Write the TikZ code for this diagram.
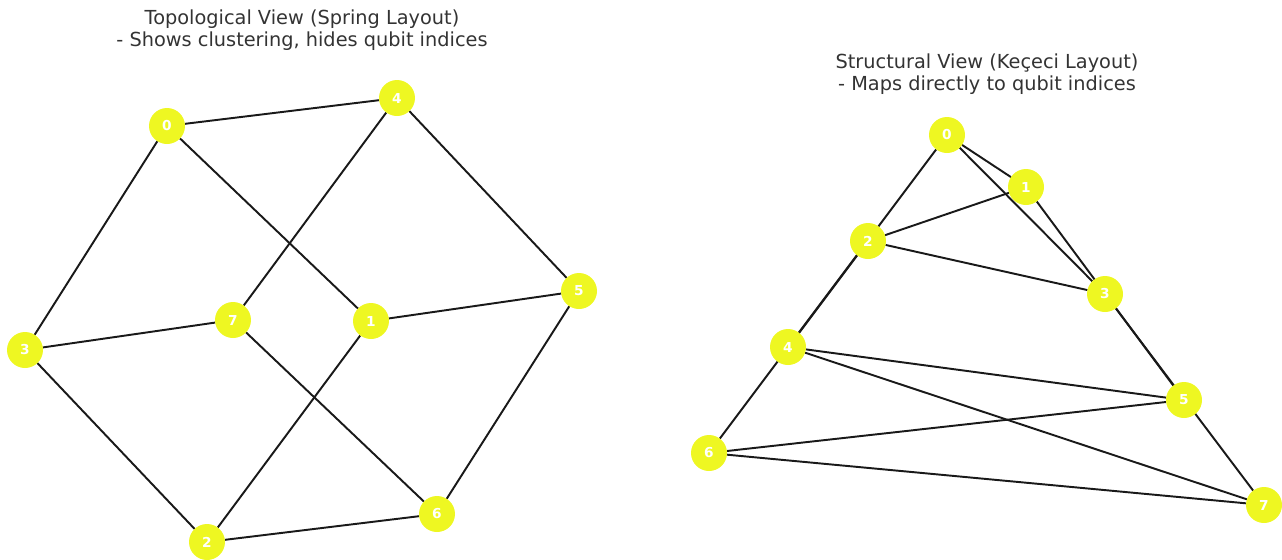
\documentclass[tikz,border=0pt]{standalone}
\usepackage{fontspec}
\setmainfont{DejaVu Sans}
\usetikzlibrary{backgrounds}
\definecolor{Q-YELLOW}{RGB}{238,247,34}
\definecolor{TITLE-GREY}{RGB}{51,51,51}

\tikzset{
	qubit/.style={circle,fill=Q-YELLOW,minimum size=0.72cm,inner sep=0pt,outer sep=0pt,text=white,font=\fontsize{7.8}{8}\selectfont\bfseries},
	coupling/.style={line width=1.1pt,black!90},
	caption/.style={align=center,text=TITLE-GREY,font=\fontsize{11}{12.6}\selectfont}
}

\begin{document}
\begin{tikzpicture}[x=0.02cm,y=-0.02cm]
			\useasboundingbox (0,0) rectangle (1282,559);

			% draw titles
			\node (T_spring) at (302,30) [caption] {Topological View (Spring Layout)\\- Shows clustering, hides qubit indices};
			\node (T_kececi) at (987,74) [caption] {Structural View (Keçeci Layout)\\- Maps directly to qubit indices};

			% draw nodes (spring layout)
			\node (S0) at (167,126) [qubit] {0};
			\node (S1) at (371,321) [qubit] {1};
			\node (S2) at (207,542) [qubit] {2};
			\node (S3) at (25,350) [qubit] {3};
			\node (S4) at (397,98) [qubit] {4};
			\node (S5) at (579,291) [qubit] {5};
			\node (S6) at (437,514) [qubit] {6};
			\node (S7) at (233,320) [qubit] {7};

			% draw nodes (kececi layout)
			\node (K0) at (947,135) [qubit] {0};
			\node (K1) at (1026,187) [qubit] {1};
			\node (K2) at (868,241) [qubit] {2};
			\node (K3) at (1105,294) [qubit] {3};
			\node (K4) at (788,347) [qubit] {4};
			\node (K5) at (1184,400) [qubit] {5};
			\node (K6) at (709,453) [qubit] {6};
			\node (K7) at (1264,505) [qubit] {7};

			% draw edges
			\begin{pgfonlayer}{background}
			\draw[coupling] (S0) -- (S4);
			\draw[coupling] (S0) -- (S1);
			\draw[coupling] (S0) -- (S3);
			\draw[coupling] (S4) -- (S7);
			\draw[coupling] (S4) -- (S5);
			\draw[coupling] (S5) -- (S1);
			\draw[coupling] (S5) -- (S6);
			\draw[coupling] (S7) -- (S3);
			\draw[coupling] (S7) -- (S6);
			\draw[coupling] (S1) -- (S2);
			\draw[coupling] (S3) -- (S2);
			\draw[coupling] (S2) -- (S6);

			\draw[coupling] (K0) -- (K4);
			\draw[coupling] (K0) -- (K1);
			\draw[coupling] (K0) -- (K3);
			\draw[coupling] (K4) -- (K7);
			\draw[coupling] (K4) -- (K5);
			\draw[coupling] (K5) -- (K1);
			\draw[coupling] (K5) -- (K6);
			\draw[coupling] (K7) -- (K3);
			\draw[coupling] (K7) -- (K6);
			\draw[coupling] (K1) -- (K2);
			\draw[coupling] (K3) -- (K2);
			\draw[coupling] (K2) -- (K6);
			\end{pgfonlayer}
		\end{tikzpicture}
\end{document}
